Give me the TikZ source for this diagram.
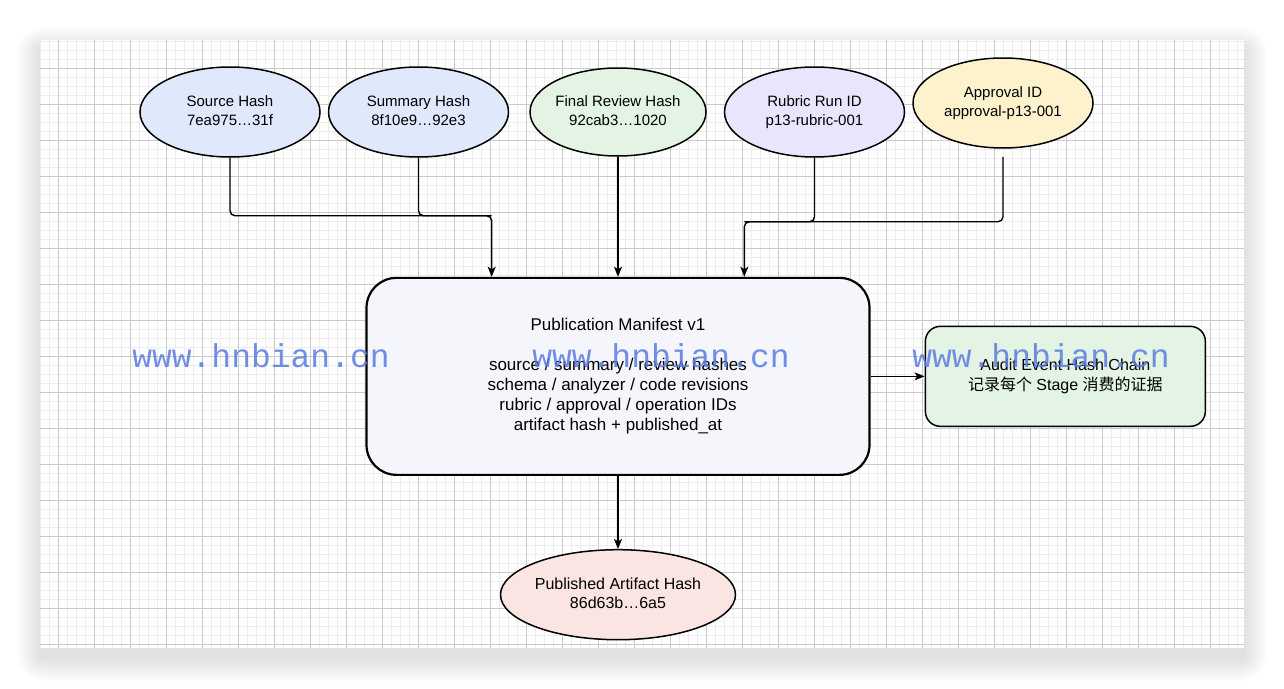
\documentclass[tikz,border=0pt]{standalone}
\usepackage{fontspec}
\setmainfont{Liberation Sans}
\newfontfamily\cjk{Noto Sans CJK SC}
\newfontfamily\wmfont{Liberation Mono}
\usetikzlibrary{positioning, shapes.geometric, arrows.meta, calc}

\definecolor{hashblue}{HTML}{DFE9FB}
\definecolor{reviewgreen}{HTML}{E3F4E5}
\definecolor{rubricviolet}{HTML}{E8E5FC}
\definecolor{approvalyellow}{HTML}{FEF2CD}
\definecolor{artifactpink}{HTML}{FAE5E3}
\definecolor{manifestfill}{HTML}{F4F6FC}
\definecolor{chaingreen}{HTML}{E3F3E4}
\definecolor{markblue}{HTML}{5A7BE0}
\definecolor{gridminor}{HTML}{EDEDED}
\definecolor{gridmajor}{HTML}{CACACA}

\newcommand{\ovaltext}[1]{\makebox[0pt]{\begin{tabular}{@{}c@{}}#1\end{tabular}}}

\tikzset{
  hashnode/.style={ellipse, draw, line width=1.5pt, minimum width=180pt, minimum height=90pt,
    inner sep=0pt, font=\fontsize{15}{19}\selectfont},
  manifest/.style={rectangle, draw, line width=2.2pt, rounded corners=30pt, fill=manifestfill,
    minimum width=503pt, minimum height=197pt, align=center, font=\fontsize{17}{20}\selectfont},
  chainbox/.style={rectangle, draw, line width=1.5pt, rounded corners=15pt, fill=chaingreen,
    minimum width=280pt, minimum height=100pt, align=center, font=\fontsize{16}{20}\selectfont},
  bus/.style={line width=1.4pt, rounded corners=5pt},
  link/.style={bus, -{Stealth[length=10pt, width=8pt, inset=2.5pt]}},
  wmtext/.style={font=\wmfont\fontsize{33}{33}\selectfont, text=markblue, text opacity=0.85,
    anchor=base, inner sep=0pt}
}

\begin{document}
\begin{tikzpicture}[x=1pt, y=-1pt]
  \useasboundingbox (0,0) rectangle (1284,688);

  % canvas with shadow and grid
  \foreach \s in {1,...,30}
    \fill[black, opacity=0.0045, rounded corners=\s pt]
      ({40-\s*0.8}, {50-\s*0.8}) rectangle ({1244+\s*0.8}, {658+\s*0.8});
  \fill[white] (40,40) rectangle (1244,648);
  \foreach \gx in {40,49,...,1244}
    \draw[gridminor, line width=1pt] (\gx,40) -- (\gx,648);
  \foreach \gy in {41,50,...,648}
    \draw[gridminor, line width=1pt] (40,\gy) -- (1244,\gy);
  \foreach \gx in {58,94,...,1244}
    \draw[gridmajor, line width=0.8pt] (\gx,40) -- (\gx,648);
  \foreach \gy in {68,104,...,648}
    \draw[gridmajor, line width=0.8pt] (40,\gy) -- (1244,\gy);

  % inputs
  \node[hashnode, fill=hashblue] (src) at (230,112) {\ovaltext{Source Hash\\7ea975…31f}};
  \node[hashnode, fill=hashblue, right=7pt of src] (sum) {\ovaltext{Summary Hash\\8f10e9…92e3}};
  \node[hashnode, fill=reviewgreen, minimum width=176pt, minimum height=88pt, right=20pt of sum] (rev)
    {\ovaltext{Final Review Hash\\92cab3…1020}};
  \node[hashnode, fill=rubricviolet, right=17pt of rev] (rub) {\ovaltext{Rubric Run ID\\p13-rubric-001}};
  \node[hashnode, fill=approvalyellow, right=7pt of rub, yshift=9pt] (appr)
    {\ovaltext{Approval ID\\approval-p13-001}};

  % manifest and outputs
  \node[manifest, below=120pt of rev] (main) {Publication Manifest v1\\[20pt]
    source / summary / review hashes\\schema / analyzer / code revisions\\
    rubric / approval / operation IDs\\artifact hash + published\_at};
  \node[chainbox, right=54pt of main] (chain)
    {Audit Event Hash Chain\\{\cjk 记录每个} Stage {\cjk 消费的证据}};
  \node[hashnode, fill=artifactpink, minimum width=235pt, below=73pt of main,
    font=\fontsize{16}{19}\selectfont] (pub) {\ovaltext{Published Artifact Hash\\86d63b…6a5}};

  \coordinate (inL) at ($(main.north west)!0.25!(main.north east)$);
  \coordinate (inR) at ($(main.north west)!0.75!(main.north east)$);
  \coordinate (busL) at ([yshift=61pt]inL);
  \coordinate (busR) at ([yshift=55pt]inR);

  \draw[bus] (sum.south) |- (busL);
  \draw[link] (src.south) |- (busL) -- (inL);
  \draw[link] (rev.south) -- (rev.south |- main.north);
  \draw[bus] (rub.south) |- (busR);
  \draw[link, shorten <=8pt] (appr.south) |- (busR) -- (inR);
  \draw[link] (main.east) -- (main.east -| chain.west);
  \draw[link] (main.south) -- (pub.north);

  % watermark
  \foreach \wx [count=\wi] in {261,661,1041}
    \node[wmtext] (wm\wi) at (\wx,367) {www.hnbian.cn};
\end{tikzpicture}
\end{document}
